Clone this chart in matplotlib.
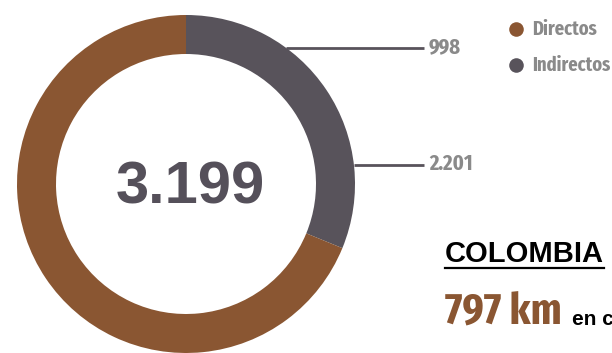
import numpy as np
import matplotlib.pyplot as plt
from matplotlib import font_manager

# victims by type
labels = ["Indirectos", "Directos"]
values = [998, 2201]
value_text = ["998", "2.201"]
total_text = "3.199"
colors = ["#58535b", "#8a5632"]

legend_names = ["Directos", "Indirectos"]
legend_colors = ["#8a5632", "#58535b"]

country = "COLOMBIA"
length_text = "797 km"
length_tail = "en c"


def condensed_bold():
    # look for a bold, narrow face among the installed fonts
    stretch_rank = {"extra-condensed": 0, "condensed": 1, "semi-condensed": 2,
                    "ultra-condensed": 2}
    best, best_score = None, None
    for f in font_manager.fontManager.ttflist:
        name = f.fname.lower()
        st = f.stretch if isinstance(f.stretch, str) else ""
        if st not in stretch_rank and "condensed" not in name and "narrow" not in name:
            continue
        if "extracondensed" in name:
            st = "extra-condensed"
        elif "semicondensed" in name:
            st = "semi-condensed"
        w = f.weight
        if isinstance(w, str):
            w = font_manager.weight_dict.get(w, 400)
        if "italic" in name or f.style != "normal":
            continue
        score = abs(w - 700) / 100 + stretch_rank.get(st, 1.5)
        if best_score is None or score < best_score:
            best, best_score = f.fname, score
    if best is None:
        return font_manager.FontProperties(family="DejaVu Sans", weight="bold")
    return font_manager.FontProperties(fname=best)


narrow = condensed_bold()
wide = ["Liberation Sans", "DejaVu Sans"]


def nfont(size):
    p = narrow.copy()
    p.set_size(size)
    return p


W, H = 612, 353
fig = plt.figure(figsize=(W / 100, H / 100), dpi=100)
ax = fig.add_axes([0, 0, 1, 1])

cx, cy, R, ring = 186, 184, 169, 39

# y axis is flipped below, so startangle 270 + counterclock means top, clockwise
ax.pie(values, colors=colors, center=(cx, cy), radius=R, startangle=270,
       counterclock=True, wedgeprops=dict(width=ring, linewidth=0))

ax.set_xlim(0, W)
ax.set_ylim(H, 0)
ax.set_aspect("equal")
ax.axis("off")

ax.text(cx + 4, 188, total_text, ha="center", va="center", fontsize=43,
        fontweight="bold", color="#55505a", family=wide)

# leader lines from ring edge to value labels
for txt, ly in zip(value_text, [48, 165]):
    x0 = cx + np.sqrt(R ** 2 - (ly - cy) ** 2)
    ax.plot([x0, 424], [ly, ly], color="#58535b", lw=2, solid_capstyle="butt")
    ax.text(429, ly - 1, txt, ha="left", va="center", color="#8a8a8a",
            fontproperties=nfont(16))

# legend
for i, (name, c) in enumerate(zip(legend_names, legend_colors)):
    ly = 29 + i * 36
    ax.scatter([516], [ly], s=110, color=c, linewidths=0)
    ax.text(532, ly, name, ha="left", va="center", color="#8a8a8a",
            fontproperties=nfont(14.5))

ax.text(445, 262, country, ha="left", va="baseline", fontsize=21,
        fontweight="bold", color="#000000", family=wide)
ax.plot([445, 604], [268, 268], color="#000000", lw=1.6)

ax.text(445, 325, length_text, ha="left", va="baseline", color="#8a5632",
        fontproperties=nfont(32))
ax.text(572, 325, length_tail, ha="left", va="baseline", fontsize=15,
        fontweight="bold", color="#000000", family=wide)

fig.savefig("out.png", dpi=100, facecolor="white")
